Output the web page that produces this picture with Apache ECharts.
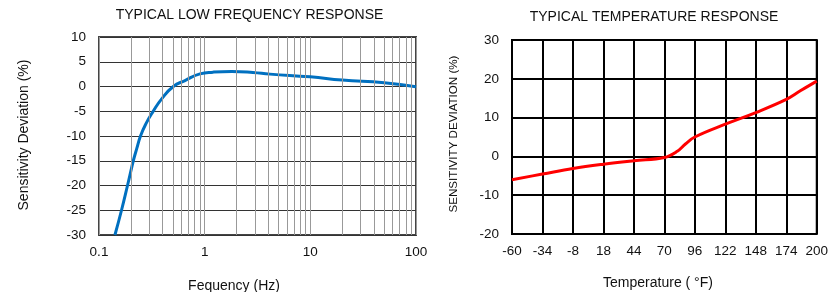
<!DOCTYPE html>
<html>
<head>
<meta charset="utf-8">
<script src="https://cdn.jsdelivr.net/npm/echarts@6/dist/echarts.min.js"></script>
<style>
html,body{margin:0;padding:0;background:#fff;}
#chart{width:831px;height:292px;}
</style>
</head>
<body>
<div id="chart"></div>
<script>
// ---- Data: low frequency response ----
const freqHz = [0.1415, 0.1633, 0.1861, 0.1982, 0.2112, 0.2279, 0.247, 0.2784, 0.326, 0.392, 0.505, 0.651, 0.903, 1.2, 1.8, 2.86, 4.15, 10, 20, 50, 100];
const freqDev = [-30, -25, -20, -17.5, -15, -12.5, -10, -7.5, -5, -2.5, 0, 1.2, 2.55, 2.9, 3.05, 2.85, 2.5, 1.95, 1.3, 0.75, -0.05];
const freqMinorGrid = [0.2,0.3,0.4,0.5,0.6,0.7,0.8,0.9,2,3,4,5,6,7,8,9,20,30,40,50,60,70,80,90];

// ---- Data: temperature response ----
const tempF = [-60, -34, -8, 18, 44, 70, 81, 88, 96, 122, 148, 174, 186, 200];
const tempDev = [-6.0, -4.55, -3.1, -2.0, -1.1, -0.3, 1.3, 3.2, 5.0, 8.3, 11.3, 14.7, 16.9, 19.4];
const tempTicks = [-60, -34, -8, 18, 44, 70, 96, 122, 148, 174, 200];
const tempOffset = 60; // axis runs 0..260 internally so ticks start at -60

const titles = ['TYPICAL LOW FREQUENCY RESPONSE', 'TYPICAL TEMPERATURE RESPONSE'];
const axisNames = ['Fequency (Hz)', 'Sensitivity Deviation (%)', 'Temperature ( °F)', 'SENSITIVITY DEVIATION (%)'];

const FONT = "'Liberation Sans', Arial, sans-serif";
const chart = echarts.init(document.getElementById('chart'), null, {renderer: 'canvas'});

const option = {
  animation: false,
  backgroundColor: '#fff',
  grid: [
    {left: 99, top: 37, width: 317, height: 198, show: true, borderColor: '#444', borderWidth: 2, backgroundColor: 'transparent'},
    {left: 512, top: 40, width: 305, height: 194, show: true, borderColor: '#000', borderWidth: 2, backgroundColor: 'transparent'}
  ],
  xAxis: [
    {
      gridIndex: 0, type: 'log', logBase: 10, min: 0.1, max: 100,
      axisLine: {show: false}, axisTick: {show: false},
      splitLine: {show: true, lineStyle: {color: '#999', width: 1}},
      minorSplitLine: {show: false},
      axisLabel: {color: '#111', fontFamily: FONT, fontSize: 13.5, margin: 10,
        formatter: function (v) { return String(+v.toPrecision(3)); }}
    },
    {
      gridIndex: 1, type: 'value', min: 0, max: 260, interval: 26,
      axisLine: {show: false}, axisTick: {show: false},
      splitLine: {show: true, lineStyle: {color: '#000', width: 2}},
      axisLabel: {color: '#111', fontFamily: FONT, fontSize: 13.5, margin: 10,
        formatter: function (v) { return String(tempTicks[Math.round(v / 26)]); }}
    }
  ],
  yAxis: [
    {
      gridIndex: 0, type: 'value', min: -30, max: 10, interval: 5,
      axisLine: {show: false}, axisTick: {show: false},
      splitLine: {show: true, lineStyle: {color: '#333', width: 1}},
      axisLabel: {color: '#111', fontFamily: FONT, fontSize: 13.5, margin: 13}
    },
    {
      gridIndex: 1, type: 'value', min: -20, max: 30, interval: 10,
      axisLine: {show: false}, axisTick: {show: false},
      splitLine: {show: true, lineStyle: {color: '#000', width: 2}},
      axisLabel: {color: '#111', fontFamily: FONT, fontSize: 13.5, margin: 13}
    }
  ],
  series: [
    {
      type: 'line', xAxisIndex: 0, yAxisIndex: 0, silent: true,
      data: [], symbol: 'none',
      markLine: {
        silent: true, symbol: ['none', 'none'], animation: false,
        label: {show: false},
        lineStyle: {color: '#999', width: 1, type: 'solid'},
        data: freqMinorGrid.map(function (f) { return {xAxis: f}; })
      }
    },
    {
      type: 'line', xAxisIndex: 0, yAxisIndex: 0, smooth: 0.5,
      symbol: 'none', clip: true,
      lineStyle: {color: '#0070C0', width: 3},
      data: freqHz.map(function (f, i) { return [f, freqDev[i]]; })
    },
    {
      type: 'line', xAxisIndex: 1, yAxisIndex: 1, smooth: 0.4,
      symbol: 'none', clip: true,
      lineStyle: {color: '#FF0000', width: 3},
      data: tempF.map(function (t, i) { return [t + tempOffset, tempDev[i]]; })
    }
  ],
  graphic: [
    {type: 'text', x: 249.5, y: 15.5, silent: true,
      style: {text: titles[0], align: 'center', verticalAlign: 'middle', font: '14px ' + FONT, fill: '#111'}},
    {type: 'text', x: 654, y: 17, silent: true,
      style: {text: titles[1], align: 'center', verticalAlign: 'middle', font: '14px ' + FONT, fill: '#111'}},
    {type: 'text', x: 234, y: 286, silent: true,
      style: {text: axisNames[0], align: 'center', verticalAlign: 'middle', font: '14px ' + FONT, fill: '#111'}},
    {type: 'text', x: 24, y: 135, rotation: Math.PI / 2, silent: true,
      style: {text: axisNames[1], align: 'center', verticalAlign: 'middle', font: '14px ' + FONT, fill: '#111'}},
    {type: 'text', x: 658, y: 283, silent: true,
      style: {text: axisNames[2], align: 'center', verticalAlign: 'middle', font: '14px ' + FONT, fill: '#111'}},
    {type: 'text', x: 454, y: 134, rotation: Math.PI / 2, silent: true,
      style: {text: axisNames[3], align: 'center', verticalAlign: 'middle', font: '11.6px ' + FONT, fill: '#111'}}
  ]
};
chart.setOption(option);
</script>
</body>
</html>
